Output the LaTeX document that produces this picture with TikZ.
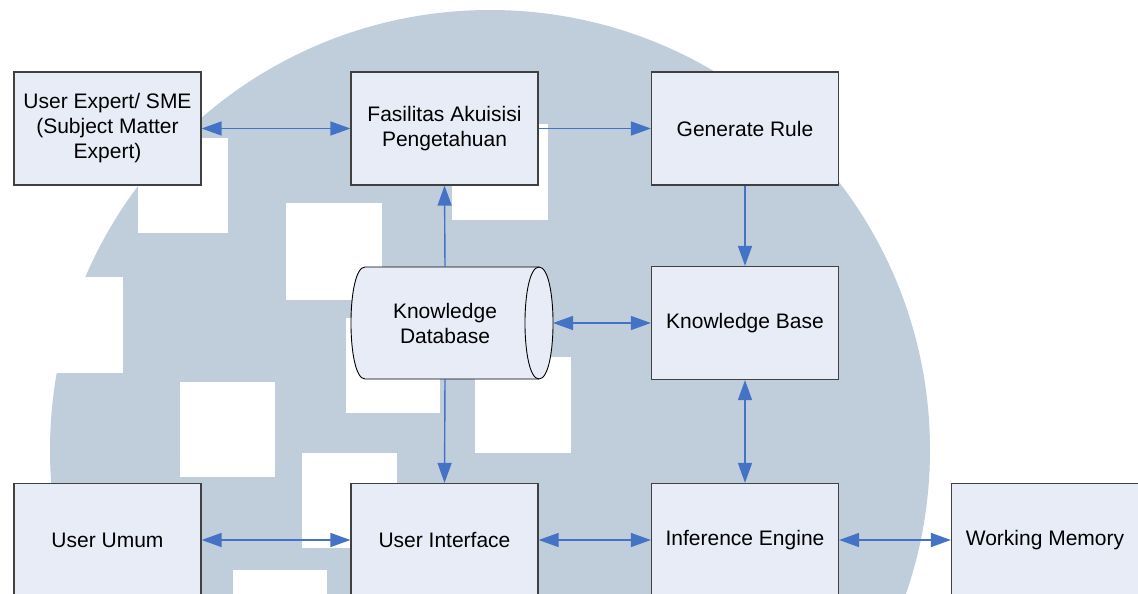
\documentclass[tikz,border=0pt]{standalone}
\usepackage{fontspec}
\setmainfont{Liberation Sans}
\usetikzlibrary{arrows.meta}
\definecolor{boxfill}{RGB}{231,236,246}
\definecolor{boxline}{RGB}{64,64,64}
\definecolor{flow}{RGB}{68,114,196}
\definecolor{logogray}{RGB}{192,206,220}

\begin{document}
\begin{tikzpicture}[x=1pt,y=-1pt,
  block/.style={draw=boxline, fill=boxfill, line width=1.2pt,
    minimum width=187pt, minimum height=113pt, inner sep=0pt,
    align=center, font=\fontsize{21}{25}\selectfont},
  label text/.style={inner sep=0pt, align=center,
    minimum width=188pt, minimum height=112pt,
    font=\fontsize{21}{25}\selectfont},
  tip/.tip={Triangle[length=20pt,width=14pt]},
  link/.style={draw=flow, line width=1.4pt, -tip},
  both/.style={draw=flow, line width=1.4pt, tip-tip},
]
\path[use as bounding box, clip] (0,0) rectangle (1138,594);

% background emblem: a disc with white squares
\fill[logogray] (490,450) circle[radius=440];
\foreach \xa/\ya/\xb/\yb in {138/138/228/233, 286/203/382/300, 27/277/123/373,
    180/382/275/477, 452/124/548/220, 346/318/440/413, 475/357/571/453,
    302/453/397/548, 233/570/327/666}
  \fill[white] (\xa,\ya) rectangle (\xb,\yb);

% blocks
\node[block] (ue) at (107.5,128.5) {User Expert/ SME\\(Subject Matter\\Expert)};
\node[block] (fa) at (444.5,128.5) {Fasilitas Akuisisi\\Pengetahuan};
\node[block] (gr) at (745,128.5) {Generate Rule};
\node[block] (kb) at (745,323) {Knowledge Base};
\node[block] (uu) at (107.5,540) {User Umum};
\node[block] (ui) at (444.5,540) {User Interface};
\node[block] (ie) at (745,540) {Inference Engine};
\node[block] (wm) at (1045,540) {Working Memory};

% storage drum
\filldraw[fill=boxfill, draw=black, line width=0.9pt]
  (365,267) -- (539,267)
  .. controls (557.7,267) and (557.7,379) .. (539,379)
  -- (365,379)
  .. controls (346.3,379) and (346.3,267) .. (365,267) -- cycle;
\draw[black, line width=0.9pt]
  (539,267) .. controls (520.3,267) and (520.3,379) .. (539,379);
\node[label text] (kd) at (445,323) {Knowledge\\Database};
\coordinate (kdr) at (553,323);

% connectors
\draw[both] (ue.east) -- (fa.west);
\draw[link] (fa.east) -- (gr.west);
\draw[link] (gr.south) -- (kb.north);
\draw[link] (kd.north) -- (fa.south);
\draw[both] (kdr) -- (kb.west);
\draw[link] (kd.south) -- (ui.north);
\draw[both] (kb.south) -- (ie.north);
\draw[both] (uu.east) -- (ui.west);
\draw[both] (ui.east) -- (ie.west);
\draw[both] (ie.east) -- (wm.west);
\end{tikzpicture}
\end{document}
